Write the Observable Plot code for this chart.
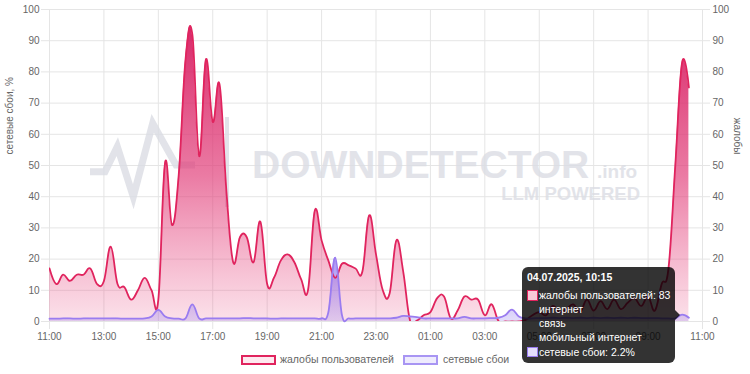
<!DOCTYPE html>
<html>
<head>
<meta charset="utf-8">
<script src="https://cdn.jsdelivr.net/npm/d3@7"></script>
<script src="https://cdn.jsdelivr.net/npm/@observablehq/plot@0.6"></script>
<style>
html, body { margin: 0; padding: 0; background: #fff; }
#wrap { position: relative; width: 750px; height: 374px; overflow: hidden; background: #fff;
  font-family: "Liberation Sans", Arial, Helvetica, sans-serif; }
#chart svg { position: absolute; left: 0; top: 0; }
.leg-box { position: absolute; box-sizing: border-box; height: 10px; width: 35px; border: 2px solid; }
.leg-txt { position: absolute; font-size: 10.5px; line-height: 12px; color: #666; white-space: nowrap; }
.tip { position: absolute; left: 522px; top: 267px; width: 153px; height: 96px; background: rgba(0,0,0,0.8);
  border-radius: 6px; color: #fff; font-size: 10.5px; }
.tip div { position: absolute; line-height: 12px; white-space: nowrap; }
.tip .sw { box-sizing: border-box; width: 10.5px; height: 10.5px; border: 1.5px solid; }
.caret { position: absolute; left: 675px; top: 310px; width: 0; height: 0;
  border-top: 5px solid transparent; border-bottom: 5px solid transparent; border-left: 5px solid rgba(0,0,0,0.8); }
</style>
</head>
<body>
<div id="wrap">
  <div id="chart"></div>
  <div class="leg-box" style="left:241px;top:354.5px;background:#fde9ef;border-color:#e0245e;"></div>
  <div class="leg-txt" style="left:280px;top:353.4px;">жалобы пользователей</div>
  <div class="leg-box" style="left:403px;top:354.5px;background:#eeebfd;border-color:#a895f3;"></div>
  <div class="leg-txt" style="left:443px;top:353.4px;">сетевые сбои</div>
  <div class="tip">
    <div style="left:5px;top:4.4px;font-weight:bold;">04.07.2025, 10:15</div>
    <div class="sw" style="left:5px;top:23px;background:#f8c9d8;border-color:#e0245e;"></div>
    <div style="left:17px;top:22.4px;">жалобы пользователей: 83</div>
    <div style="left:17px;top:36.4px;">интернет</div>
    <div style="left:17px;top:50.4px;">связь</div>
    <div style="left:17px;top:64.4px;">мобильный интернет</div>
    <div class="sw" style="left:5px;top:79.7px;background:#e4defc;border-color:#9a7cf0;"></div>
    <div style="left:17px;top:78.9px;">сетевые сбои: 2.2%</div>
  </div>
  <div class="caret"></div>
</div>
<script>
// ---- data (15-minute steps starting 03.07.2025 11:00) ----
const startTime = "2025-07-03T11:00:00Z";
const stepMinutes = 15;

const complaints = [
  17, 12, 15, 13, 15, 15, 17, 12,
  13, 24, 12, 11, 7, 10, 14, 10,
  7, 51, 31, 47, 84, 92, 53, 84,
  64, 76, 42, 19, 27, 27, 19, 32,
  12, 14, 19.5, 21.5, 19, 13.5, 10, 35.5,
  26, 19.5, 14, 18.5, 18, 17, 16, 34,
  21.5, 10, 9, 26, 16, 0.3, 0.3, 2,
  3, 7.5, 8, 1, 3.5, 8, 7, 7,
  2, 5.5, 0.2, 0, 0, 0, 0.5, 2,
  3, 2, 5, 3, 4, 5.5, 3, 7,
  3.5, 6.5, 4, 7, 4, 6, 7.5, 5,
  8, 3.5, 12, 17, 50, 83, 75
];

const outages = [
  0.9, 0.9, 1.0, 1.0, 0.9, 1.0, 1.0, 1.0,
  1.0, 1.0, 1.0, 0.9, 0.9, 0.9, 1.0, 1.6,
  3.7, 1.6, 1.0, 0.9, 1.0, 5.5, 1.0, 1.0,
  1.0, 1.0, 1.0, 1.0, 1.0, 1.1, 1.0, 1.0,
  1.0, 0.9, 1.0, 1.0, 1.0, 1.0, 1.0, 1.0,
  1.0, 3.0, 20.5, 2.0, 1.0, 1.0, 1.0, 1.0,
  1.0, 1.0, 1.0, 1.2, 1.8, 1.6, 1.4, 1.0,
  1.0, 1.0, 1.0, 1.0, 1.0, 1.5, 1.0, 1.0,
  1.0, 1.1, 1.2, 2.0, 3.8, 1.6, 1.0, 1.0,
  1.1, 1.1, 1.2, 1.1, 1.2, 1.1, 1.2, 1.1,
  1.2, 1.1, 1.2, 1.1, 1.2, 1.1, 1.2, 1.1,
  1.1, 1.1, 1.0, 1.0, 1.0, 2.2, 1.2
];

const yTicks = [0, 10, 20, 30, 40, 50, 60, 70, 80, 90, 100];
const xTickLabels = ["11:00","13:00","15:00","17:00","19:00","21:00","23:00","01:00","03:00","05:00","07:00","09:00","11:00"];
const yLeftTitle = "сетевые сбои, %";
const yRightTitle = "жалобы";

// ---- build table ----
const t0 = new Date(startTime).getTime();
const data = complaints.map((v, i) => ({
  t: new Date(t0 + i * stepMinutes * 60000),
  complaints: v,
  outages: outages[i]
}));
const xDomain = [new Date(t0), new Date(t0 + 24 * 3600e3)];
const xTicks = d3.utcHour.range(xDomain[0], new Date(+xDomain[1] + 1), 2);
const fmt = d3.utcFormat("%H:%M");

const NS = "http://www.w3.org/2000/svg";
const defs = () => {
  const g = document.createElementNS(NS, "defs");
  g.innerHTML = `
    <linearGradient id="gRed" x1="0" y1="0" x2="0" y2="1">
      <stop offset="0" stop-color="rgb(214,28,96)" stop-opacity="0.95"/>
      <stop offset="0.5" stop-color="rgb(225,60,120)" stop-opacity="0.68"/>
      <stop offset="1" stop-color="rgb(235,90,140)" stop-opacity="0.17"/>
    </linearGradient>
    <linearGradient id="gBlue" x1="0" y1="0" x2="0" y2="1">
      <stop offset="0" stop-color="rgb(140,110,240)" stop-opacity="0.75"/>
      <stop offset="1" stop-color="rgb(160,140,240)" stop-opacity="0.3"/>
    </linearGradient>`;
  return g;
};

const watermark = () => {
  const g = document.createElementNS(NS, "g");
  g.setAttribute("opacity", "0.8");
  g.setAttribute("text-anchor", "start");
  g.innerHTML = `
    <polyline points="90,171.7 105,171.7 117.3,146.7 133.3,196.7 152.7,123.3 176,165 195,165"
      fill="none" stroke="rgb(219,221,228)" stroke-width="7" stroke-linejoin="miter"/>
    <line x1="227" y1="117" x2="227" y2="207" stroke="rgb(219,221,228)" stroke-width="4"/>
    <text x="252" y="178" text-anchor="start" font-family="Liberation Sans, Arial, sans-serif" font-weight="bold" font-size="39" fill="rgb(219,221,228)">DOWNDETECTOR</text>
    <text x="597" y="178" text-anchor="start" font-family="Liberation Sans, Arial, sans-serif" font-weight="bold" font-size="19" fill="rgb(219,221,228)">.info</text>
    <text x="640" y="200" text-anchor="end" font-family="Liberation Sans, Arial, sans-serif" font-weight="bold" font-size="18.5" fill="rgb(219,221,228)">LLM POWERED</text>`;
  return g;
};

const curve = "cardinal";
const tension = -0.2;

const chart = Plot.plot({
  width: 750,
  height: 346,
  marginTop: 9,
  marginBottom: 25,
  marginLeft: 49,
  marginRight: 48,
  style: { background: "transparent", fontFamily: "Liberation Sans, Arial, sans-serif", fontSize: "10px", color: "#666" },
  x: { type: "utc", domain: xDomain },
  y: { domain: [0, 100] },
  marks: [
    defs,
    Plot.ruleY(yTicks, { stroke: "#e5e5e5", insetLeft: -8, insetRight: -8 }),
    Plot.ruleX(xTicks, { stroke: "#e5e5e5", insetBottom: -8 }),
    watermark,
    Plot.areaY(data, { x: "t", y: "complaints", curve, tension, fill: "url(#gRed)", clip: "frame" }),
    Plot.areaY(data, { x: "t", y: "outages", curve, tension, fill: "url(#gBlue)", clip: "frame" }),
    Plot.line(data, { x: "t", y: "complaints", curve, tension, stroke: "#e0245e", strokeWidth: 1.8, clip: "frame" }),
    Plot.line(data, { x: "t", y: "outages", curve, tension, stroke: "#9a7cf0", strokeWidth: 1.8 }),
    Plot.axisY({ anchor: "left", ticks: yTicks, tickSize: 0, tickPadding: 10, label: null }),
    Plot.axisY({ anchor: "right", ticks: yTicks, tickSize: 0, tickPadding: 10, label: null }),
    Plot.axisX({ ticks: xTicks, tickFormat: (d, i) => xTickLabels[i] ?? fmt(d), tickSize: 0, tickPadding: 11, label: null }),
    Plot.text([yLeftTitle], { frameAnchor: "left", rotate: -90, dx: -40, dy: -11, fontSize: 10, fill: "#666" }),
    Plot.text([yRightTitle], { frameAnchor: "right", rotate: 90, dx: 35, dy: -11, fontSize: 10, fill: "#666" })
  ]
});
document.getElementById("chart").appendChild(chart);
</script>
</body>
</html>
